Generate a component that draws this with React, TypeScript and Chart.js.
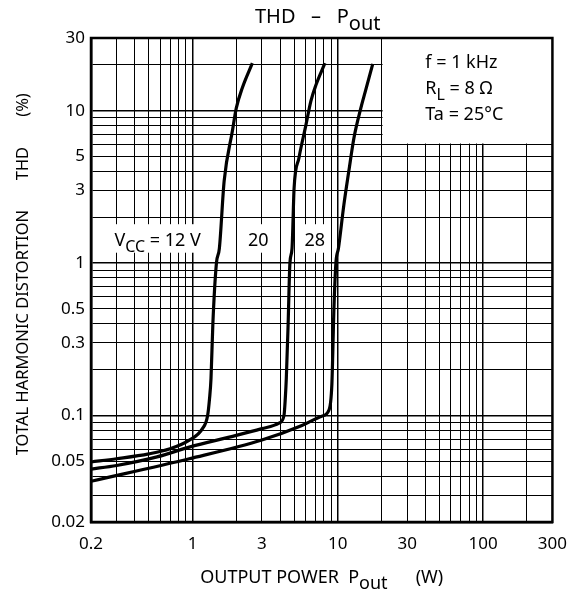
import React, { useEffect, useRef } from 'react';
import { Chart, registerables } from 'chart.js';

Chart.register(...registerables);

const FONT = '"Noto Sans", "Open Sans", "DejaVu Sans", sans-serif';

// Grid positions (log decades) and which of them carry labels
const xGrid = [0.2, 0.3, 0.4, 0.5, 0.6, 0.7, 0.8, 0.9, 1, 2, 3, 4, 5, 6, 7, 8, 9, 10, 20, 30, 40, 50, 60, 70, 80, 90, 100, 200, 300];
const xTickLabels = [0.2, 1, 3, 10, 30, 100, 300];
const yGrid = [0.02, 0.03, 0.04, 0.05, 0.06, 0.07, 0.08, 0.09, 0.1, 0.2, 0.3, 0.4, 0.5, 0.6, 0.7, 0.8, 0.9, 1, 2, 3, 4, 5, 6, 7, 8, 9, 10, 20, 30];
const yTickLabels = [0.02, 0.05, 0.1, 0.3, 0.5, 1, 3, 5, 10, 30];

// Curves: output power (W) vs THD (%)
const vcc12Power = [0.2, 0.3, 0.5, 0.7, 0.95, 1.17, 1.27, 1.31, 1.34, 1.38, 1.46, 1.53, 1.65, 1.88, 2.0, 2.2, 2.58];
const vcc12Thd = [0.0495, 0.052, 0.056, 0.0605, 0.069, 0.082, 0.1, 0.13, 0.175, 0.4, 1.0, 1.25, 3.45, 7.35, 10.4, 14.1, 20.5];

const vcc20Power = [0.2, 0.3, 0.57, 0.95, 2.0, 3.0, 3.94, 4.26, 4.35, 4.42, 4.55, 4.68, 4.84, 5.0, 5.4, 6.03, 6.53, 7.06, 8.15];
const vcc20Thd = [0.0445, 0.047, 0.0535, 0.062, 0.074, 0.082, 0.089, 0.1, 0.13, 0.175, 0.4, 1.0, 1.25, 3.1, 4.9, 8.05, 11.6, 14.7, 20.5];

const vcc28Power = [0.2, 0.95, 3.0, 5.66, 7.76, 8.67, 9.1, 9.4, 9.7, 10.1, 11.0, 11.9, 12.9, 14.4, 15.5, 17.4];
const vcc28Thd = [0.037, 0.052, 0.069, 0.086, 0.099, 0.108, 0.16, 0.5, 1.0, 1.25, 2.4, 4.0, 6.6, 10.4, 13.5, 20.3];

// Curve labels (text, anchor power, baseline THD) and their white boxes
const curveLabelText = ['12', '20', '28'];
const curveLabelPower = [0.29, 2.83, 6.95];
const curveLabelThd = 1.3;
const labelBoxPower = [[0.21, 1.4], [2.3, 3.6], [5.8, 8.5]];
const labelBoxThd = [1.17, 1.8];

// Conditions box
const condBoxPower = [20, 300];
const condBoxThd = [6, 30];
const condTextPower = 40;
const condTextThd = 19.2;

// Y-axis title groups and the THD values they are centred on
const yTitleParts = ['TOTAL HARMONIC DISTORTION', 'THD', '(%)'];
const yTitleAt = [0.35, 4.5, 10.9];

const pts = (xs: number[], ys: number[]) => xs.map((v, i) => ({ x: v, y: ys[i] }));

type Part = { t: string; sub?: boolean };

function drawRich(ctx: CanvasRenderingContext2D, parts: Part[], x: number, y: number, size: number, align: 'left' | 'center', subScale = 0.95) {
  const mainFont = `${size}px ${FONT}`;
  const subFont = `${Math.round(size * subScale)}px ${FONT}`;
  let total = 0;
  const widths = parts.map((p) => {
    ctx.font = p.sub ? subFont : mainFont;
    const w = ctx.measureText(p.t).width;
    total += w;
    return w;
  });
  let cx = align === 'center' ? x - total / 2 : x;
  ctx.textAlign = 'left';
  ctx.textBaseline = 'alphabetic';
  parts.forEach((p, i) => {
    ctx.font = p.sub ? subFont : mainFont;
    ctx.fillText(p.t, cx, p.sub ? y + size * 0.35 : y);
    cx += widths[i];
  });
}

const overlayPlugin = {
  id: 'overlay',
  beforeDatasetsDraw(chart: any) {
    const { ctx, chartArea } = chart;
    const xs = chart.scales.x;
    const ys = chart.scales.y;
    ctx.save();
    ctx.fillStyle = '#fff';
    labelBoxPower.forEach(([a, b]) => {
      const l = xs.getPixelForValue(a);
      const r = xs.getPixelForValue(b);
      const t = ys.getPixelForValue(labelBoxThd[1]);
      const bt = ys.getPixelForValue(labelBoxThd[0]);
      ctx.fillRect(l, t, r - l, bt - t);
    });
    const cl = xs.getPixelForValue(condBoxPower[0]) + 1;
    const ct = ys.getPixelForValue(condBoxThd[1]);
    const cb = ys.getPixelForValue(condBoxThd[0]) - 1;
    ctx.fillRect(cl, chartArea.top, xs.getPixelForValue(condBoxPower[1]) - cl, cb - ct);

    ctx.fillStyle = '#000';
    const by = ys.getPixelForValue(curveLabelThd);
    drawRich(ctx, [{ t: 'V' }, { t: 'CC', sub: true }, { t: ' = ' + curveLabelText[0] + ' V' }], xs.getPixelForValue(curveLabelPower[0]), by, 18, 'left', 0.88);
    drawRich(ctx, [{ t: curveLabelText[1] }], xs.getPixelForValue(curveLabelPower[1]), by, 18, 'center');
    drawRich(ctx, [{ t: curveLabelText[2] }], xs.getPixelForValue(curveLabelPower[2]), by, 18, 'center');

    const tx = xs.getPixelForValue(condTextPower);
    const ty = ys.getPixelForValue(condTextThd);
    drawRich(ctx, [{ t: 'f = 1 kHz' }], tx, ty, 18, 'left');
    drawRich(ctx, [{ t: 'R' }, { t: 'L', sub: true }, { t: ' = 8 Ω' }], tx, ty + 26, 18, 'left', 0.88);
    drawRich(ctx, [{ t: 'Ta = 25°C' }], tx, ty + 52, 18, 'left');
    ctx.restore();
  },
  afterDraw(chart: any) {
    const { ctx, chartArea } = chart;
    ctx.save();
    ctx.strokeStyle = '#000';
    ctx.lineWidth = 2.5;
    ctx.strokeRect(chartArea.left, chartArea.top, chartArea.right - chartArea.left, chartArea.bottom - chartArea.top);
    ctx.fillStyle = '#000';
    const midX = (chartArea.left + chartArea.right) / 2;
    drawRich(ctx, [{ t: 'THD   –   P' }, { t: 'out', sub: true }], midX - 4, 23, 20, 'center', 1);
    drawRich(ctx, [{ t: 'OUTPUT POWER  P' }, { t: 'out', sub: true }, { t: '      (W)' }], midX, 583, 18, 'center', 1);
    const ys = chart.scales.y;
    yTitleParts.forEach((text, i) => {
      ctx.save();
      ctx.translate(28, ys.getPixelForValue(yTitleAt[i]));
      ctx.rotate(-Math.PI / 2);
      drawRich(ctx, [{ t: text }], 0, 0, 16.5, 'center');
      ctx.restore();
    });
    ctx.restore();
  },
};

const isDecade = (v: number) => Math.abs(Math.log10(v) - Math.round(Math.log10(v))) < 1e-9;

export default function App() {
  const ref = useRef<HTMLCanvasElement | null>(null);
  useEffect(() => {
    if (!ref.current) return;
    const chart = new Chart(ref.current, {
      type: 'scatter',
      data: {
        datasets: [
          { data: pts(vcc12Power, vcc12Thd) },
          { data: pts(vcc20Power, vcc20Thd) },
          { data: pts(vcc28Power, vcc28Thd) },
        ].map((d) => ({
          ...d,
          showLine: true,
          borderColor: '#000',
          backgroundColor: '#000',
          borderWidth: 3.2,
          pointRadius: 0,
          cubicInterpolationMode: 'monotone' as const,
          fill: false,
        })),
      },
      options: {
        animation: false,
        responsive: false,
        devicePixelRatio: 1,
        layout: { padding: { top: 38, right: 24, left: 0, bottom: 0 } },
        plugins: { legend: { display: false }, tooltip: { enabled: false }, title: { display: false } },
        scales: {
          x: {
            type: 'logarithmic',
            min: 0.2,
            max: 300,
            afterBuildTicks: (s: any) => {
              s.ticks = xGrid.map((v) => ({ value: v }));
            },
            afterFit: (s: any) => {
              s.height = 69;
            },
            ticks: {
              autoSkip: false,
              maxRotation: 0,
              minRotation: 0,
              padding: 12,
              color: '#000',
              font: { family: FONT, size: 17 },
              callback: (v: any) => (xTickLabels.includes(Number(v)) ? String(v) : ''),
            },
            grid: {
              color: '#000',
              lineWidth: (c: any) => (c.tick && isDecade(c.tick.value) ? 1.5 : 1),
              drawTicks: false,
            },
            border: { color: '#000', width: 2.5 },
          },
          y: {
            type: 'logarithmic',
            min: 0.02,
            max: 30,
            afterBuildTicks: (s: any) => {
              s.ticks = yGrid.map((v) => ({ value: v }));
            },
            afterFit: (s: any) => {
              s.width = 91;
            },
            ticks: {
              autoSkip: false,
              padding: 6,
              color: '#000',
              font: { family: FONT, size: 17 },
              callback: (v: any) => (yTickLabels.includes(Number(v)) ? String(v) : ''),
            },
            grid: {
              color: '#000',
              lineWidth: (c: any) => (c.tick && isDecade(c.tick.value) ? 1.5 : 1),
              drawTicks: false,
            },
            border: { color: '#000', width: 2.5 },
          },
        },
      } as any,
      plugins: [overlayPlugin],
    });
    return () => chart.destroy();
  }, []);
  return (
    <div style={{ position: 'absolute', left: 0, top: 0, width: 579, height: 591, background: '#fff' }}>
      <canvas ref={ref} width={579} height={591} style={{ display: 'block', width: 579, height: 591 }} />
    </div>
  );
}
